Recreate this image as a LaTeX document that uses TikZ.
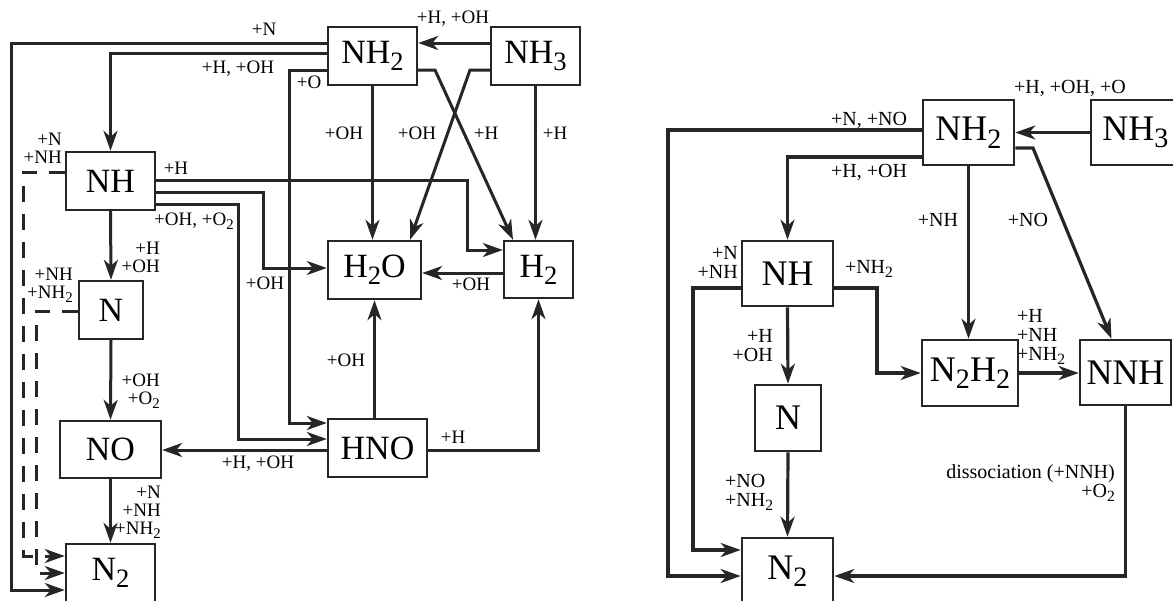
\documentclass[tikz,border=0pt]{standalone}
\usepackage{fontspec}
\setmainfont{Liberation Serif}
\usetikzlibrary{arrows.meta}
\newcommand{\sbt}[1]{\raisebox{-0.45ex}{\scalebox{0.78}{#1}}}
\begin{document}
\begin{tikzpicture}[x=1pt,y=-1pt,
  boxL/.style={draw=black!85,line width=2.4pt,inner sep=0pt,font=\fontsize{34}{36}\selectfont},
  boxR/.style={draw=black!85,line width=2.6pt,inner sep=0pt,font=\fontsize{36}{38}\selectfont},
  conL/.style={line width=3pt,draw=black!85},
  conR/.style={line width=3.2pt,draw=black!85},
  arr/.style={-{Stealth[length=20pt,width=14pt,inset=6pt]}},
  dashL/.style={conL,dash pattern=on 16pt off 12pt},
  lblL/.style={inner sep=0pt,font=\fontsize{19}{18}\selectfont},
  lblR/.style={inner sep=0pt,font=\fontsize{20}{19}\selectfont}]
\useasboundingbox (0,0) rectangle (1173,600);
% ---------------- left diagram ----------------
\node[boxL,minimum width=89pt,minimum height=58pt] (nh2L) at (372.5,56) {NH\sbt{2}};
\node[boxL,minimum width=89pt,minimum height=58pt] (nh3L) at (535.5,56) {NH\sbt{3}};
\node[boxL,minimum width=89pt,minimum height=58pt] (nhL) at (110.5,181) {NH};
\node[boxL,minimum width=64pt,minimum height=58pt] (nL) at (111,310) {N};
\node[boxL,minimum width=101pt,minimum height=57pt] (noL) at (110.5,449.5) {NO};
\node[boxL,minimum width=89pt,minimum height=58pt] (n2L) at (110.5,573) {N\sbt{2}};
\node[boxL,minimum width=93pt,minimum height=58pt] (h2oL) at (374.5,270) {H\sbt{2}O};
\node[boxL,minimum width=69pt,minimum height=57pt] (h2L) at (538.5,269.5) {H\sbt{2}};
\node[boxL,minimum width=99pt,minimum height=58pt] (hnoL) at (377.5,448) {HNO};

\draw[conL,arr] ([yshift=13pt]nh3L.west) -- ([yshift=13pt]nh2L.east);
\draw[conL,arr] ([yshift=13pt]nh2L.west) -- (11,43) -- (11,590) -- ([yshift=-17pt]n2L.west);
\draw[conL,arr] ([yshift=3pt]nh2L.west) -| (nhL.north);
\draw[conL,arr] ([yshift=-14pt]nh2L.west) -- (289,70) |- ([yshift=25pt]hnoL.west);
\draw[conL,arr] (nh2L.south) -- (nh2L.south |- h2oL.north);
\draw[conL,arr] ([yshift=-14pt]nh2L.east) -- (435,70) -- ([xshift=-25.5pt]h2L.north);
\draw[conL,arr] ([yshift=-14pt]nh3L.west) -- (470,70) -- ([xshift=35.5pt]h2oL.north);
\draw[conL,arr] (nh3L.south) -- (nh3L.south |- h2L.north);
\draw[conL,arr] ([yshift=1pt]nhL.east) -- (467,180) |- ([yshift=19.5pt]h2L.west);
\draw[conL,arr] ([yshift=-11pt]nhL.east) -- (263,192) |- ([yshift=2pt]h2oL.west);
\draw[conL,arr] ([yshift=-23pt]nhL.east) -- (238,204) |- ([yshift=9pt]hnoL.west);
\draw[conL,arr] (nhL.south) -- (nL.north);
\draw[dashL,arr] ([yshift=9pt]nhL.west) -- (23,172) -- (23,556) -- ([yshift=17pt]n2L.west);
\draw[dashL,arr] ([yshift=-1pt]nL.west) -- (36,311) -- (36,573) -- (n2L.west);
\draw[conL,arr] (nL.south) -- (noL.north);
\draw[conL,arr] (noL.south) -- (n2L.north);
\draw[conL,arr] (h2oL.south |- hnoL.north) -- (h2oL.south);
\draw[conL,arr] ([yshift=-2pt]hnoL.east) -| (h2L.south);
\draw[conL,arr] ([yshift=-2pt]hnoL.west) -- ([yshift=-0.5pt]noL.east);
\draw[conL,arr] ([yshift=-3.5pt]h2L.west) -- ([yshift=-3pt]h2oL.east);

\node[lblL] (lA) at (264,29) {+N};
\node[lblL] (lB) at (238,69) {+H, +OH};
\node[lblL] (lC) at (453,19) {+H, +OH};
\node[lblL] (lD) at (309,82) {+O};
\node[lblL] (lE) at (344,133) {+OH};
\node[lblL] (lF) at (417,133) {+OH};
\node[lblL] (lG) at (486,133) {+H};
\node[lblL] (lH) at (555,133) {+H};
\node[lblL] (lI) at (176,168) {+H};
\node[lblL] (lJ) at (194,221) {+OH, +O\sbt{2}};
\node[lblL] (lK) at (265,283) {+OH};
\node[lblL] (lL) at (471,284) {+OH};
\node[lblL] (lM) at (346,360) {+OH};
\node[lblL] (lN) at (453,437) {+H};
\node[lblL] (lO) at (258,464) {+H, +OH};
\node[lblL,anchor=east,align=right] (lP) at (160,257) {+H\\+OH};
\node[lblL,anchor=east,align=right] (lQ) at (160,391) {+OH\\+O\sbt{2}};
\node[lblL,anchor=east,align=right] (lR) at (161,512) {+N\\+NH\\+NH\sbt{2}};
\node[lblL,anchor=east,align=right] (lS) at (62,148) {+N\\+NH};
\node[lblL,anchor=east,align=right] (lT) at (73,285) {+NH\\+NH\sbt{2}};

% ---------------- right diagram ----------------
\node[boxR,minimum width=91pt,minimum height=65pt] (nh2R) at (968.5,132.5) {NH\sbt{2}};
\node[boxR,minimum width=89pt,minimum height=65pt] (nh3R) at (1135.5,132.5) {NH\sbt{3}};
\node[boxR,minimum width=91pt,minimum height=65pt] (nhR) at (787.5,273.5) {NH};
\node[boxR,minimum width=66pt,minimum height=66pt] (nR) at (788,418) {N};
\node[boxR,minimum width=96pt,minimum height=66pt] (n2h2R) at (970,373) {N\sbt{2}H\sbt{2}};
\node[boxR,minimum width=91pt,minimum height=65pt] (nnhR) at (1125.5,372.5) {NNH};
\node[boxR,minimum width=91pt,minimum height=66pt] (n2R) at (787.5,571) {N\sbt{2}};

\draw[conR,arr] (nh3R.west) -- (nh2R.east);
\draw[conR,arr] ([yshift=2.5pt]nh2R.west) -- (668,130) -- (668,576) -- ([yshift=-5pt]n2R.west);
\draw[conR,arr] ([yshift=-24.5pt]nh2R.west) -| (nhR.north);
\draw[conR,arr] (nh2R.south) -- (nh2R.south |- n2h2R.north);
\draw[conR,arr] ([yshift=-15.5pt]nh2R.east) -- (1033,148) -- ([xshift=-14pt]nnhR.north);
\draw[conR,arr] ([yshift=-14.5pt]nhR.west) -- (693,288) |- ([yshift=21pt]n2R.west);
\draw[conR,arr] ([yshift=-14.5pt]nhR.east) -- (877,288) |- (n2h2R.west);
\draw[conR,arr] (nhR.south) -- (nR.north);
\draw[conR,arr] (nR.south) -- (n2R.north);
\draw[conR,arr] (n2h2R.east) -- (n2h2R.east -| nnhR.west);
\draw[conR,arr] (nnhR.south) |- ([yshift=-5pt]n2R.east);

\node[lblR] (rA) at (1070,88) {+H, +OH, +O};
\node[lblR] (rB) at (869,120) {+N, +NO};
\node[lblR] (rC) at (869,172) {+H, +OH};
\node[lblR] (rD) at (938,220) {+NH};
\node[lblR] (rE) at (1028,220) {+NO};
\node[lblR,anchor=east,align=right] (rF) at (738,262) {+N\\+NH};
\node[lblR] (rG) at (869,269) {+NH\sbt{2}};
\node[lblR,anchor=east,align=right] (rH) at (773,346) {+H\\+OH};
\node[lblR,anchor=west,align=left] (rI) at (725,492) {+NO\\+NH\sbt{2}};
\node[lblR,anchor=west,align=left] (rJ) at (1017,337) {+H\\+NH\\+NH\sbt{2}};
\node[lblR,anchor=east,align=right] (rK) at (1115,483) {dissociation (+NNH)\\+O\sbt{2}};
\end{tikzpicture}
\end{document}
